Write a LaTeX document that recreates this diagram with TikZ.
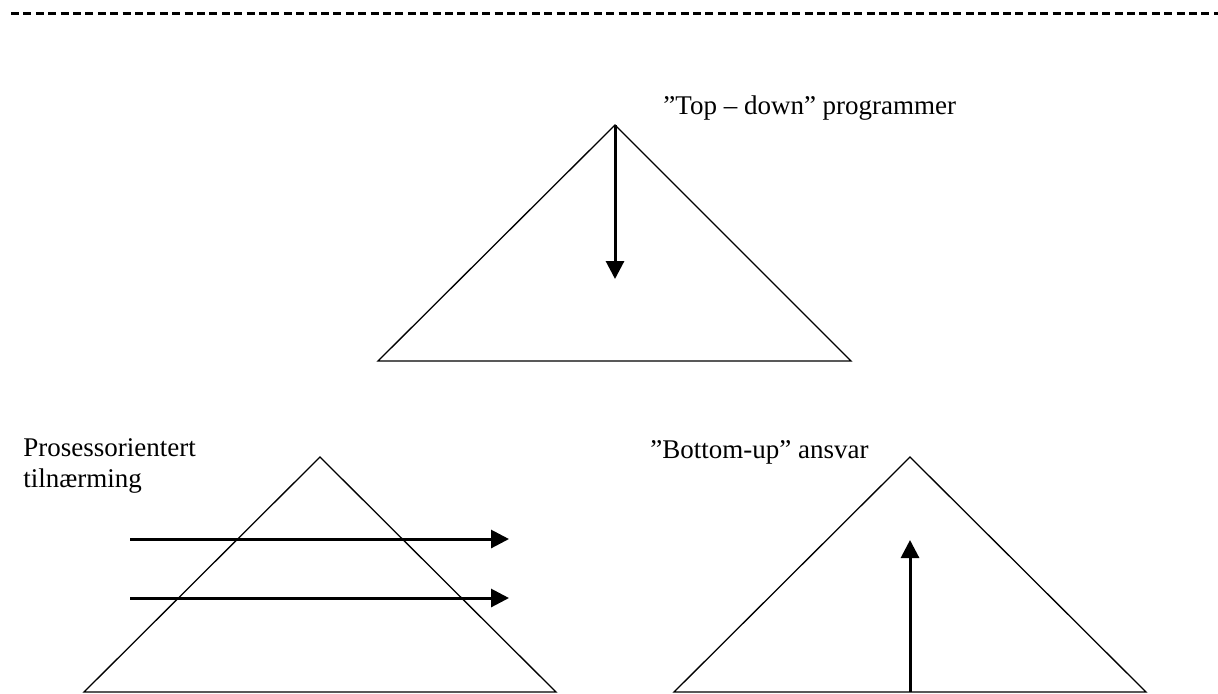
\documentclass[tikz,border=0pt]{standalone}
\usepackage{fontspec}
\setmainfont{Liberation Serif}
\usetikzlibrary{arrows.meta}
\begin{document}
\begin{tikzpicture}[x=0.5pt,y=-0.5pt,
  tri/.style={line width=0.65pt,line join=miter},
  bigarrow/.style={line width=1.5pt,-{Triangle[length=9pt,width=9pt]}},
  lbl/.style={anchor=base west,inner sep=0pt,font=\fontsize{13.5pt}{15.5pt}\selectfont,align=left},
  sep/.style={line width=1.5pt,dash pattern=on 4pt off 2.2pt}]
\useasboundingbox (0,0) rectangle (1218,693);
% separator
\coordinate (s1) at (11,13);
\coordinate (s2) at (1218,13);
\draw[sep] (s1) -- (s2);
% top triangle
\coordinate (ta) at (615,125);
\coordinate (tl) at (378,361);
\coordinate (tr) at (851,361);
\draw[tri] (tl) -- (ta) -- (tr) -- cycle;
\coordinate (tend) at (615,279);
\draw[bigarrow] (ta) -- (tend);
\node[lbl] (ttxt) at (663,114) {”Top – down” programmer};
% bottom left triangle
\coordinate (la) at (320,457);
\coordinate (ll) at (84,692);
\coordinate (lr) at (556,692);
\draw[tri] (ll) -- (la) -- (lr) -- cycle;
\coordinate (h1s) at (130,539);
\coordinate (h1e) at (509,539);
\coordinate (h2s) at (130,598);
\coordinate (h2e) at (509,598);
\draw[bigarrow] (h1s) -- (h1e);
\draw[bigarrow] (h2s) -- (h2e);
\node[lbl] (ltxt1) at (23,456) {Prosessorientert};
\node[lbl] (ltxt2) at (23,487) {tilnærming};
% bottom right triangle
\coordinate (ra) at (910,457);
\coordinate (rl) at (674,692);
\coordinate (rr) at (1146,692);
\draw[tri] (rl) -- (ra) -- (rr) -- cycle;
\coordinate (ustart) at (910,692);
\coordinate (uend) at (910,540);
\draw[bigarrow] (ustart) -- (uend);
\node[lbl] (rtxt) at (650,458) {”Bottom-up” ansvar};
\end{tikzpicture}
\end{document}
